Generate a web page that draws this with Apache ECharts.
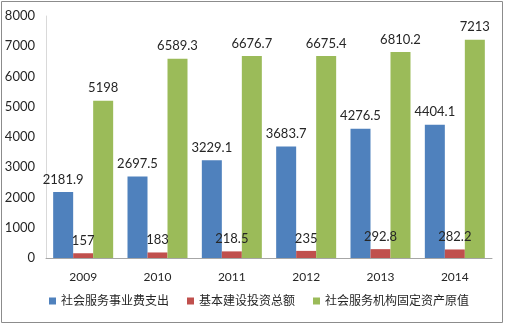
<!DOCTYPE html>
<html>
<head>
<meta charset="utf-8">
<script src="https://cdn.jsdelivr.net/npm/echarts@6/dist/echarts.min.js"></script>
<style>
html,body{margin:0;padding:0;background:#fff;}
#chart{width:506px;height:325px;}
</style>
</head>
<body>
<div id="chart"></div>
<script>
// Years on the category axis
var years = ['2009', '2010', '2011', '2012', '2013', '2014'];
// 社会服务事业费支出
var serviceSpending = [2181.9, 2697.5, 3229.1, 3683.7, 4276.5, 4404.1];
// 基本建设投资总额
var constructionInvestment = [157, 183, 218.5, 235, 292.8, 282.2];
// 社会服务机构固定资产原值
var fixedAssets = [5198, 6589.3, 6676.7, 6675.4, 6810.2, 7213];
var seriesNames = ['社会服务事业费支出', '基本建设投资总额', '社会服务机构固定资产原值'];

var fontFam = 'Lato, "Noto Sans CJK SC", sans-serif';
var chart = echarts.init(document.getElementById('chart'));

function barSeries(name, data, color) {
  return {
    name: name,
    type: 'bar',
    data: data,
    barWidth: 20,
    barGap: '0%',
    itemStyle: { color: color },
    label: {
      show: true,
      position: 'top',
      distance: 6,
      color: '#262626',
      fontSize: 13,
      fontFamily: fontFam
    }
  };
}

chart.setOption({
  animation: false,
  graphic: [{
    type: 'rect',
    shape: { x: 1.5, y: 1.5, width: 501, height: 321 },
    style: { fill: 'none', stroke: '#8c8c8c', lineWidth: 1 },
    silent: true
  }],
  grid: { left: 46, right: 14, top: 16, bottom: 67 },
  legend: {
    bottom: 13,
    left: 44,
    itemWidth: 7,
    itemHeight: 7,
    itemGap: 18,
    icon: 'rect',
    textStyle: { color: '#262626', fontSize: 12, fontFamily: fontFam },
    data: seriesNames
  },
  xAxis: {
    type: 'category',
    data: years,
    axisLine: { lineStyle: { color: '#a6a6a6' } },
    axisTick: { show: false },
    axisLabel: { color: '#262626', fontSize: 12, margin: 13, fontFamily: fontFam }
  },
  yAxis: {
    type: 'value',
    min: 0,
    max: 8000,
    interval: 1000,
    axisLine: { show: true, lineStyle: { color: '#d9d9d9' } },
    axisTick: { show: false },
    splitLine: { show: false },
    axisLabel: {
      color: '#262626',
      fontSize: 13,
      margin: 11,
      fontFamily: fontFam,
      formatter: function (v) { return String(v); }
    }
  },
  series: [
    barSeries(seriesNames[0], serviceSpending, '#4F81BD'),
    barSeries(seriesNames[1], constructionInvestment, '#C0504D'),
    barSeries(seriesNames[2], fixedAssets, '#9BBB59')
  ]
});
</script>
</body>
</html>
